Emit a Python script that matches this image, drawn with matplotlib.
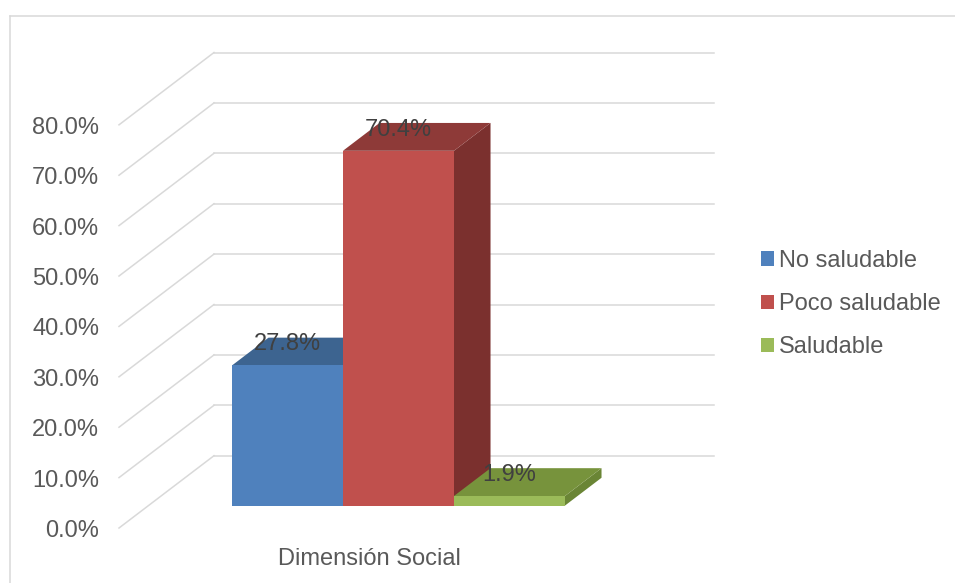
import matplotlib.pyplot as plt
from matplotlib.patches import Polygon, Patch
from matplotlib.lines import Line2D
import numpy as np

# datos
categories = ["No saludable", "Poco saludable", "Saludable"]
values = [27.8, 70.4, 1.9]
group_label = "Dimensión Social"
ticks = [0, 10, 20, 30, 40, 50, 60, 70, 80]

front_colors = ["#4F81BD", "#C0504D", "#9BBB59"]
top_colors = ["#3D6490", "#8E3A38", "#77933C"]
side_colors = ["#36587F", "#7B302E", "#6A8535"]

plt.rcParams['font.family'] = ['Liberation Sans', 'DejaVu Sans']
text_color = "#595959"
grid_color = "#D9D9D9"

# projection oblique (estilo Excel 3D)
DX, DY = 0.19, 14.35
d_front, d_back = 0.69, 0.305
txt_shift = -0.6  # ajuste vertical del texto


def proj(x, z, d):
    return (x - d * DX, z - d * DY)


fig = plt.figure(figsize=(9.55, 5.83), dpi=100)
ax = fig.add_axes([0, 0, 1, 1])
ax.set_xlim(-0.928, 0.982)
ax.set_ylim(-25.26, 90.42)
ax.axis('off')

# paredes / lineas de cuadricula
for t in ticks:
    ax.plot([-0.5, 0.5], [t, t], color=grid_color, lw=1.1, zorder=1)
    p0, p1 = proj(-0.5, t, 0), proj(-0.5, t, 1)
    ax.plot([p0[0], p1[0]], [p0[1], p1[1]], color=grid_color, lw=1.1, zorder=1)
    ax.text(p1[0] - 0.04, p1[1] + txt_shift, f"{t:.1f}%", ha='right', va='center',
            fontsize=17, color=text_color)

# barras 3D
w = 0.222
positions = (np.arange(len(values)) - 1) * w
for i, (pos, h) in enumerate(zip(positions, values)):
    x0, x1 = pos - w / 2, pos + w / 2
    side = [proj(x1, 0, d_front), proj(x1, 0, d_back), proj(x1, h, d_back), proj(x1, h, d_front)]
    top = [proj(x0, h, d_front), proj(x1, h, d_front), proj(x1, h, d_back), proj(x0, h, d_back)]
    front = [proj(x0, 0, d_front), proj(x1, 0, d_front), proj(x1, h, d_front), proj(x0, h, d_front)]
    z = 2 + i
    ax.add_patch(Polygon(side, closed=True, facecolor=side_colors[i], edgecolor='none', zorder=z))
    ax.add_patch(Polygon(top, closed=True, facecolor=top_colors[i], edgecolor='none', zorder=z))
    ax.add_patch(Polygon(front, closed=True, facecolor=front_colors[i], edgecolor='none', zorder=z))

# etiquetas de datos
for pos, h in zip(positions, values):
    lx = pos - d_front * DX
    ly = proj(pos, h, d_back)[1] - 0.7 + txt_shift
    ax.text(lx, ly, f"{h:.1f}%", ha='center', va='center', fontsize=17,
            color="#404040", zorder=10)

# etiqueta de categoria
cx, cy = proj(0, 0, 1)
ax.text(cx, -19.9 + txt_shift, group_label, ha='center', va='center', fontsize=17, color=text_color)

# leyenda
handles = [Patch(facecolor=c, edgecolor='none') for c in front_colors]
fig.legend(handles, categories, loc='center left', bbox_to_anchor=(761 / 955, 1 - 304 / 583),
           frameon=False, fontsize=17, handlelength=0.55, handleheight=0.55,
           handletextpad=0.22, labelspacing=0.9, borderpad=0, borderaxespad=0,
           labelcolor=text_color)

# marco del grafico
fig.add_artist(Line2D([9.5 / 955, 1], [1 - 16 / 583] * 2, color=grid_color, lw=1.1,
                      transform=fig.transFigure))
fig.add_artist(Line2D([9.5 / 955] * 2, [0, 1 - 16 / 583], color=grid_color, lw=1.1,
                      transform=fig.transFigure))

fig.savefig("out.png", dpi=100)
